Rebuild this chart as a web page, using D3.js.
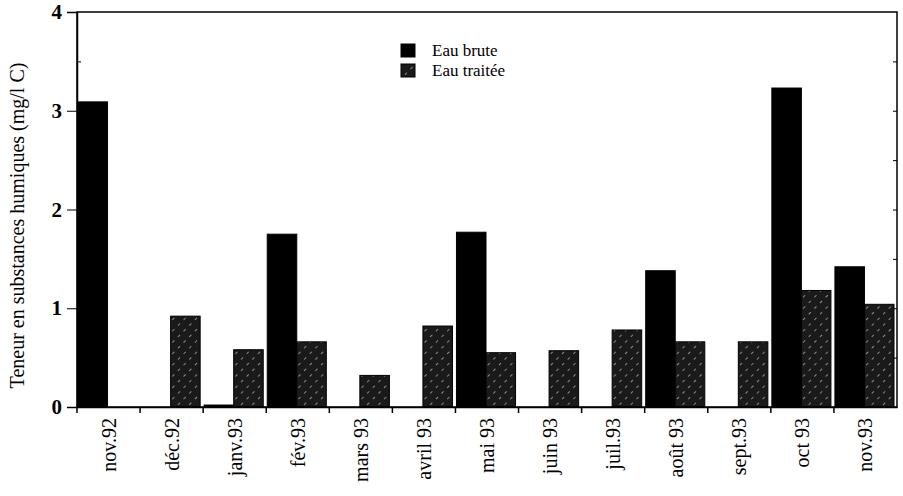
<!DOCTYPE html>
<html>
<head>
<meta charset="utf-8">
<script src="https://cdn.jsdelivr.net/npm/d3@7"></script>
<style>
  body { margin: 0; background: #fff; }
  text { font-family: "Liberation Serif", "DejaVu Serif", serif; }
</style>
</head>
<body>
<div id="chart"></div>
<script>
// Data
const months = ["nov.92", "déc.92", "janv.93", "fév.93", "mars 93", "avril 93", "mai 93",
  "juin 93", "juil.93", "août 93", "sept.93", "oct 93", "nov.93"];
const eauBrute   = [3.09, 0, 0.02, 1.75, 0, 0, 1.77, 0, 0, 1.38, 0, 3.23, 1.42];
const eauTraitee = [0, 0.92, 0.58, 0.66, 0.32, 0.82, 0.55, 0.57, 0.78, 0.66, 0.66, 1.18, 1.04];
const yTicks = [0, 1, 2, 3, 4];
const seriesNames = ["Eau brute", "Eau traitée"];

// Dimensions
const width = 903, height = 496;
const margin = {top: 12, right: 6, bottom: 89, left: 77};
const xMax = width - margin.left - margin.right;
const yMax = height - margin.top - margin.bottom;

const svg = d3.select("#chart").append("svg")
  .attr("width", width)
  .attr("height", height);

// hatched pattern for "Eau traitée"
const defs = svg.append("defs");
const pat = defs.append("pattern")
  .attr("id", "hatch")
  .attr("patternUnits", "userSpaceOnUse")
  .attr("width", 8)
  .attr("height", 8)
  .attr("patternTransform", "rotate(45)");
pat.append("rect").attr("width", 8).attr("height", 8).attr("fill", "#1a1a1a");
pat.append("line")
  .attr("x1", 0).attr("y1", 0).attr("x2", 0).attr("y2", 8)
  .attr("stroke", "#d8d8d8")
  .attr("stroke-width", 1.2)
  .attr("stroke-dasharray", "3,5");

const g = svg.append("g")
  .attr("transform", `translate(${margin.left},${margin.top})`);

// Scales
const x = d3.scaleBand().domain(months).range([0, xMax]).padding(0);
const x1 = d3.scaleBand().domain(seriesNames).range([1, x.bandwidth() - 3]).padding(0);
const y = d3.scaleLinear().domain([0, 4]).range([yMax, 0]);

// Bars
const rows = months.map((m, i) => ({month: m, values: [eauBrute[i], eauTraitee[i]]}));
const groups = g.selectAll(".month")
  .data(rows)
  .enter().append("g")
  .attr("class", "month")
  .attr("transform", d => `translate(${x(d.month)},0)`);

groups.selectAll("rect")
  .data(d => d.values.map((v, j) => ({name: seriesNames[j], value: v})))
  .enter().append("rect")
  .attr("x", d => x1(d.name))
  .attr("y", d => y(d.value))
  .attr("width", x1.bandwidth())
  .attr("height", d => yMax - y(d.value))
  .attr("fill", d => d.name === "Eau brute" ? "#000" : "url(#hatch)")
  .attr("stroke", "#000")
  .attr("stroke-width", d => d.value > 0 ? 1 : 0);

// Frame
g.append("rect")
  .attr("width", xMax).attr("height", yMax)
  .attr("fill", "none").attr("stroke", "#000").attr("stroke-width", 1.5);

// Y axis
const yAxis = g.append("g")
  .call(d3.axisLeft(y).tickValues(yTicks).tickFormat(d3.format("d")).tickSize(10).tickPadding(5));
yAxis.select(".domain").attr("stroke-width", 1.5);
yAxis.selectAll("text").style("font-size", "21px").style("font-weight", "bold").attr("fill", "#000");

// minor ticks inside, left and right
const minor = d3.range(0.5, 4, 0.5);
g.append("g").call(d3.axisRight(y).tickValues(minor).tickSize(4).tickFormat(""))
  .select(".domain").remove();
g.append("g").attr("transform", `translate(${xMax},0)`)
  .call(d3.axisLeft(y).tickValues(minor).tickSize(4).tickFormat(""))
  .select(".domain").remove();

// X axis: ticks at band boundaries
const xAxis = g.append("g")
  .attr("transform", `translate(0,${yMax})`)
  .call(d3.axisBottom(x).tickSize(0).tickFormat(""));
xAxis.select(".domain").attr("stroke-width", 1.5);
g.append("g")
  .selectAll("line")
  .data(months)
  .enter().append("line")
  .attr("x1", d => x(d)).attr("x2", d => x(d))
  .attr("y1", yMax).attr("y2", yMax + 6)
  .attr("stroke", "#000").attr("stroke-width", 1.5);

g.append("g")
  .selectAll("text")
  .data(months)
  .enter().append("text")
  .attr("transform", d => `translate(${x(d) + x.bandwidth() / 2 + 7},${yMax + 11}) rotate(-90)`)
  .attr("text-anchor", "end")
  .style("font-size", "20px")
  .text(d => d);

// Y axis label
svg.append("text")
  .attr("transform", `translate(24,${margin.top + yMax / 2 + 16}) rotate(-90)`)
  .attr("text-anchor", "middle")
  .style("font-size", "20px")
  .text("Teneur en substances humiques (mg/l C)");

// Legend
const legend = svg.append("g").attr("transform", "translate(401,44)");
seriesNames.forEach((name, i) => {
  legend.append("rect")
    .attr("x", 0).attr("y", i * 20)
    .attr("width", 14).attr("height", 13)
    .attr("fill", i === 0 ? "#000" : "url(#hatch)")
    .attr("stroke", "#000");
  legend.append("text")
    .attr("x", 31).attr("y", i * 20 + 12)
    .style("font-size", "17px")
    .text(name);
});
</script>
</body>
</html>
